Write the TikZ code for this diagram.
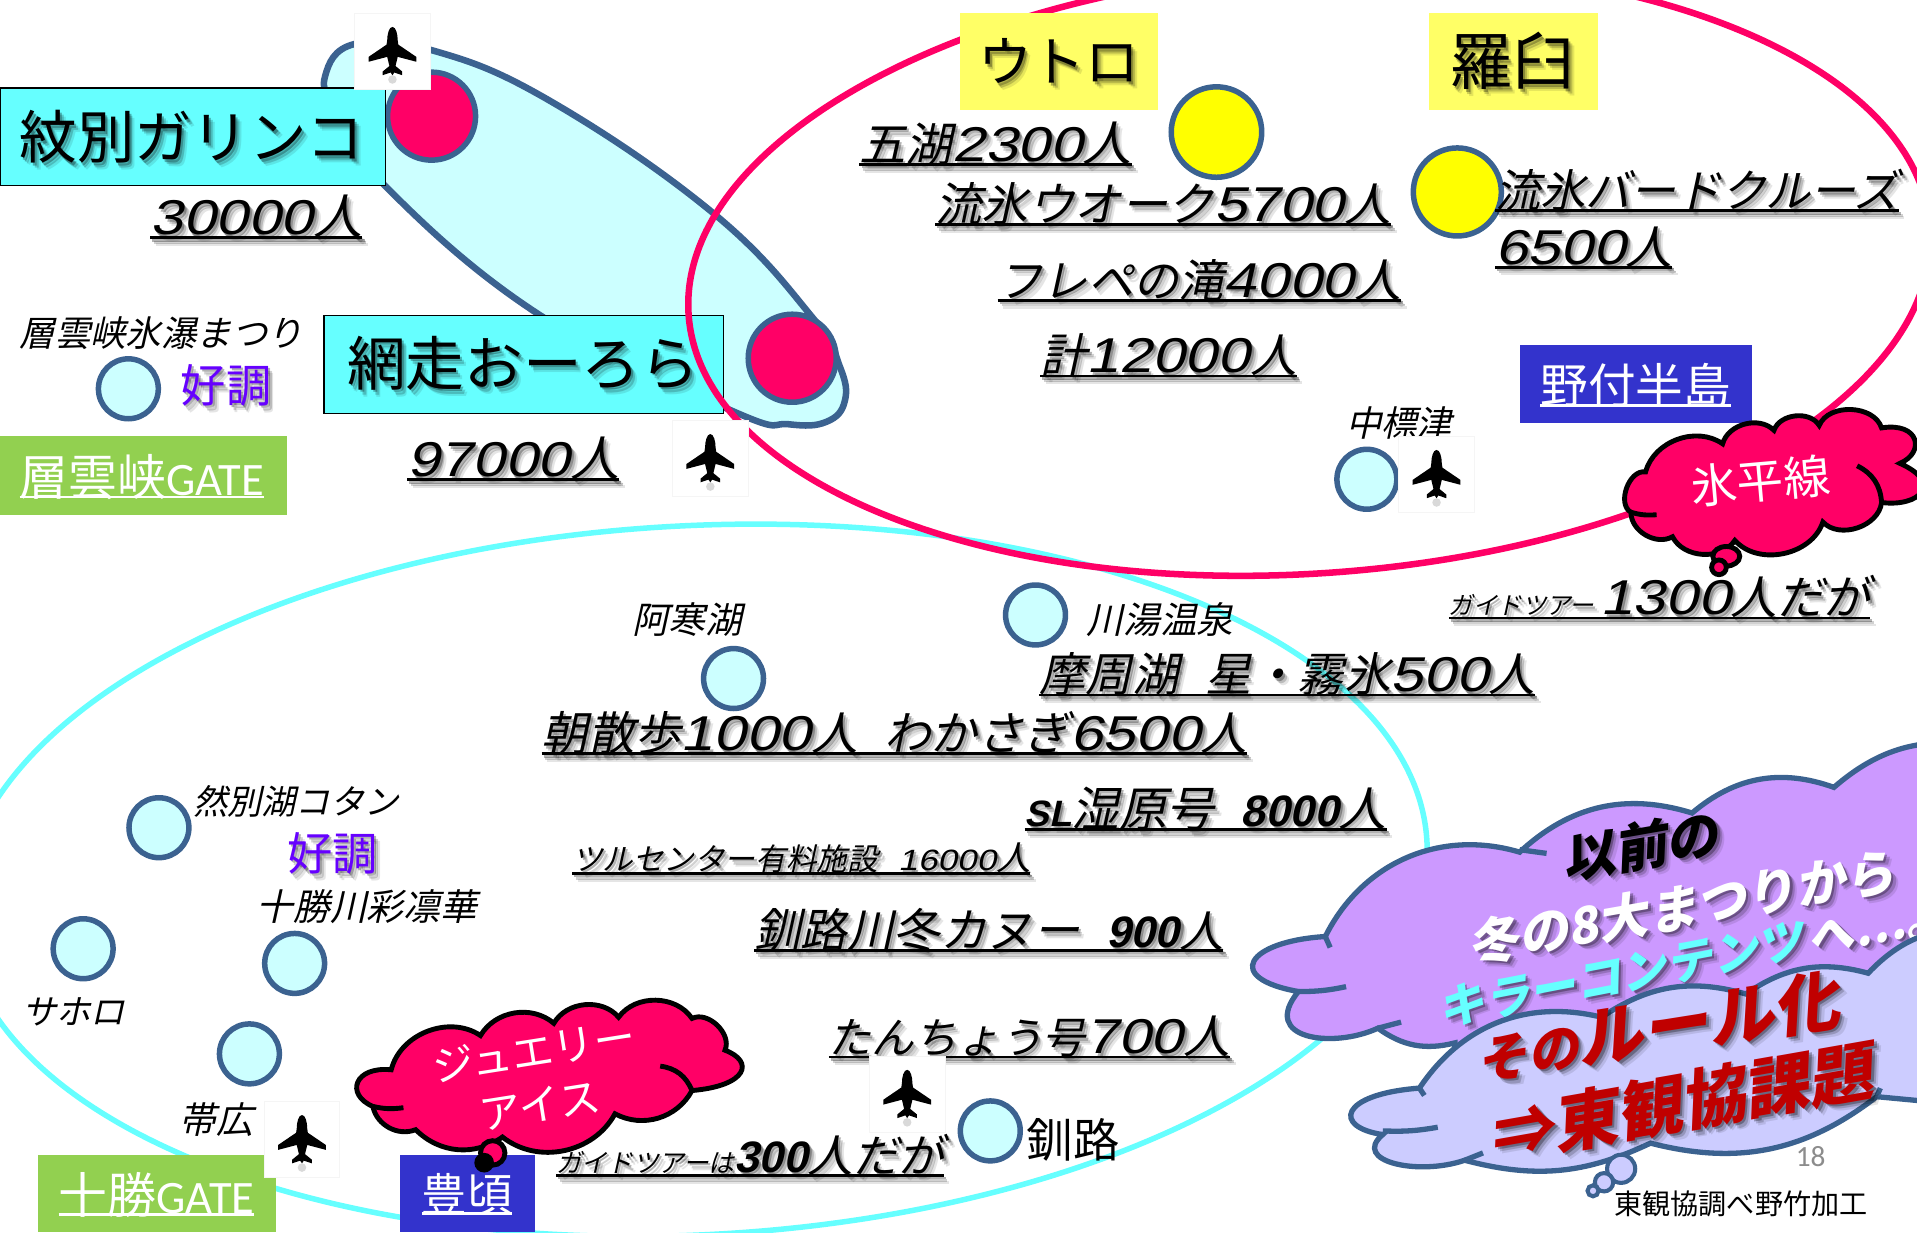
\documentclass[tikz,border=0pt]{standalone}
\usepackage{fontspec}
\usepackage{graphicx}
\setmainfont{Noto Sans CJK JP}
\newfontfamily\jup{Noto Sans CJK JP}
\newfontfamily\jit[FakeSlant=0.22]{Noto Sans CJK JP}
\newfontfamily\wdigfam[FakeStretch=1.2,FakeSlant=0.22]{Liberation Sans}
\newfontfamily\ndig[FakeSlant=0.22]{Liberation Sans}
\newfontfamily\carl{Carlito}
\definecolor{deepblue}{HTML}{3B6290}
\definecolor{rose}{HTML}{FF0066}
\definecolor{paleaqua}{HTML}{CCFFFF}
\definecolor{aqua}{HTML}{66FFFF}
\definecolor{lemon}{HTML}{FFFF00}
\definecolor{softyellow}{HTML}{FFFF66}
\definecolor{navybox}{HTML}{3333CC}
\definecolor{leaf}{HTML}{92D050}
\definecolor{violettext}{HTML}{6600FF}
\definecolor{mauve}{HTML}{CC99FF}
\definecolor{lilac}{HTML}{CCCCFF}
\definecolor{brick}{HTML}{C00000}
\newcommand{\fs}[1]{\fontsize{\fpeval{0.6*#1}}{\fpeval{0.72*#1}}\selectfont}
\newcommand{\ji}[2]{{\jit\fs{#1}#2}}
\newcommand{\jb}[2]{{\jit\bfseries\fs{#1}#2}}
\newcommand{\ju}[2]{{\jup\fs{#1}#2}}
\newcommand{\numw}[1]{{\wdigfam\fs{40}#1}}
\newcommand{\numb}[2]{{\ndig\bfseries\fs{#1}#2}}
\newsavebox{\lineholder}
% text with a rule under it: depth and thickness are in pt
\newcommand{\ruled}[3][1.4]{\sbox{\lineholder}{#3}\leavevmode\rlap{\rule[-#2pt]{\wd\lineholder}{#1pt}}\usebox{\lineholder}}
% label with a soft three-step drop shadow
\newcommand{\stxt}[4][]{%
  \node[lab,#1,text=black,text opacity=.10,xshift=2.8pt,yshift=-3.4pt] (#2-far) at (#3) {#4};
  \node[lab,#1,text=black,text opacity=.18,xshift=1.9pt,yshift=-2.4pt] (#2-mid) at (#3) {#4};
  \node[lab,#1,text=black,text opacity=.30,xshift=1.0pt,yshift=-1.2pt] (#2-near) at (#3) {#4};
  \node[lab,#1] (#2) at (#3) {#4};}
\tikzset{
  lab/.style={inner sep=0pt,outer sep=0pt,anchor=base west},
  mid/.style={inner sep=0pt,outer sep=0pt,anchor=center},
  spot/.style={draw=deepblue,line width=2.7pt},
  redline/.style={draw=black,line width=2.4pt,fill=rose},
  cloudline/.style={draw=deepblue,line width=2.6pt},
  planebox/.style={fill=white,draw=black!4,line width=.4pt,minimum width=37.2pt,minimum height=37.4pt,inner sep=0pt},
  planeicon/.pic={
    \fill[black,opacity=.15] (0,23) ellipse [x radius=3.5,y radius=3.5];
    \fill[black] (0,-20) .. controls (2.8,-20) and (4.3,-14) .. (4.3,-9) -- (4.8,-5.5) -- (19.5,4.5) -- (19.5,8.5)
      -- (4.3,4.5) -- (2.5,12) -- (8,16.5) -- (8,19.5) -- (1.5,17.3) -- (0,19.5) -- (-1.5,17.3) -- (-8,19.5)
      -- (-8,16.5) -- (-2.5,12) -- (-4.3,4.5) -- (-19.5,8.5) -- (-19.5,4.5) -- (-4.8,-5.5) -- (-4.3,-9)
      .. controls (-4.3,-14) and (-2.8,-20) .. (0,-20) -- cycle;
  }
}
\begin{document}
\begin{tikzpicture}[x=0.6pt,y=-0.6pt]
\useasboundingbox (0,0) rectangle (1568,1007.7);
\fill[white] (0,0) rectangle (1568,1007.7);
\clip (0,0) rectangle (1568,1007.7);

% route band between the two northern airports
\draw[spot,line width=3.2pt,fill=paleaqua] plot[smooth cycle,tension=.7] coordinates {
  (266,62) (290,36) (353,41) (449,82) (583,174) (664,259) (687,300) (691,328) (676,345)
  (645,347) (601,337) (442,258) (314,151) (275,90)};
\draw[spot,fill=rose] (353,95) circle [radius=36];
\draw[spot,fill=rose] (648,293) circle [radius=36];

% region outlines
\draw[aqua,line width=2.7pt,shift={(568,720)},rotate=3] (0,0) ellipse [x radius=600,y radius=290];

% destinations
\foreach \px/\py in {105/318,1118/392,847/503,600/555,130/677,68/776,241/788,204/862,810/925}
  \draw[spot,fill=paleaqua] (\px,\py) circle [radius=24.5];
\draw[spot,fill=lemon] (995,108) circle [radius=37];
\draw[spot,fill=lemon] (1192,157) circle [radius=36];

% title boxes
\draw[fill=aqua,draw=black,line width=.6pt] (0,72) rectangle (315,152);
\stxt[mid]{monbetsu}{157,112}{\ju{47}{紋別ガリンコ}}
\draw[fill=aqua,draw=black,line width=.6pt] (265,258) rectangle (592,338);
\stxt[mid]{abashiri}{428,297}{\ju{48}{網走おーろら}}
\draw[rose,line width=3.2pt,shift={(1071,222)},rotate=4] (0,0) ellipse [x radius=509,y radius=247];

\fill[softyellow] (785,11) rectangle (947,90);
\stxt[mid]{utoro}{866,50}{\ju{44}{ウトロ}}
\fill[softyellow] (1169,11) rectangle (1307,90);
\stxt[mid]{rausu}{1237,50}{\ju{51}{羅臼}}
\fill[navybox] (1243,282) rectangle (1433,346);
\node[mid,text=white] (notsuke) at (1338,315) {\ruled{1.6}{\ju{39}{野付半島}}};
\fill[leaf] (0,357) rectangle (235,421);
\node[mid,text=white] (soun-gate) at (116,390) {\ruled{1.6}{\ju{40}{層雲峡}{\carl\fs{38}GATE}}};
\fill[leaf] (31,945) rectangle (226,1008);
\node[mid,text=white] (tokachi-gate) at (128,977) {\ruled{1.6}{\ju{40}{十勝}{\carl\fs{38}GATE}}};
\fill[navybox] (327,945) rectangle (438,1008);
\node[mid,text=white] (toyokoro) at (382,977) {\ruled{1.6}{\ju{37}{豊頃}}};

% visitor figures
\stxt{n-monbetsu}{123,192}{\ruled{2.2}{\numw{30000}\ji{40}{人}}}
\stxt{n-abashiri}{333,390}{\ruled{2.2}{\numw{97000}\ji{40}{人}}}
\stxt{n-goko}{703,132}{\ruled{2.2}{\ji{38}{五湖}\numw{2300}\ji{40}{人}}}
\stxt{n-walk}{765,181}{\ruled{2.2}{\ji{38}{流氷ウオーク}\numw{5700}\ji{38}{人}}}
\stxt{n-furepe}{816,243}{\ruled{2.2}{\ji{37}{フレペの滝}\numw{4000}\ji{38}{人}}}
\stxt{n-total}{851,305}{\ruled{2.2}{\ji{38}{計}\numw{12000}\ji{38}{人}}}
\stxt{n-bird}{1223,170}{\ruled{2.2}{\ji{37}{流氷バードクルーズ}}}
\stxt{n-bird2}{1223,216}{\ruled{2.2}{\numw{6500}\ji{38}{人}}}
\stxt{n-tour}{1185,503}{\ruled{2.2}{\ji{20}{ガイドツアー}\hspace{3pt}\numw{1300}\ji{38}{人だが}}}
\stxt{n-mashu}{850,566}{\ruled{2.2}{\ji{38}{摩周湖}\hspace{13pt}\ji{38}{星・霧氷}\numw{500}\ji{38}{人}}}
\stxt{n-asa}{443,614}{\ruled{2.2}{\ji{38}{朝散歩}\numw{1000}\ji{38}{人}\hspace{13pt}\ji{38}{わかさぎ}\numw{6500}\ji{38}{人}}}
\stxt{n-sl}{838,676}{\ruled{2.2}{\numb{30}{SL}\ji{39}{湿原号}\hspace{13pt}\numb{36}{8000}\ji{39}{人}}}
\stxt{n-tsuru}{468,712}{\ruled{2.2}{\ji{25}{ツルセンター有料施設}\hspace{10pt}{\wdigfam\fs{24}16000}\ji{28}{人}}}
\stxt{n-canoe}{617,775}{\ruled{2.2}{\ji{38}{釧路川冬カヌー}\hspace{13pt}\numb{36}{900}\ji{36}{人}}}
\stxt{n-tancho}{678,862}{\ruled{2.2}{\ji{35}{たんちょう号}\numw{700}\ji{38}{人}}}
\stxt{n-guide}{455,959}{\ruled{2.2}{\ji{21}{ガイドツアーは}\numb{36}{300}\ji{37}{人だが}}}

% place names
\node[lab] (soun) at (16,283) {\ji{29}{層雲峡氷瀑まつり}};
\stxt[mid,text=violettext]{good-soun}{185,315}{\ju{37}{好調}}
\node[lab] (nakashibetsu) at (1101,357) {\ji{29}{中標津}};
\node[lab] (akan) at (517,518) {\ji{30}{阿寒湖}};
\node[lab] (kawayu) at (889,518) {\ji{30}{川湯温泉}};
\node[lab] (shikaribetsu) at (158,666) {\ji{28}{然別湖コタン}};
\stxt[mid,text=violettext]{good-tokachi}{272,698}{\ju{37}{好調}}
\node[lab] (tokachigawa) at (210,753) {\ji{30}{十勝川彩凛華}};
\node[lab] (sahoro) at (18,838) {\ji{28}{サホロ}};
\node[lab] (obihiro) at (147,927) {\ji{30}{帯広}};
\node[lab] (kushiro) at (840,947) {\ju{38}{釧路}};

% airport marks
\node[planebox] (plane-a) at (321,42) {};
\pic at (plane-a) {planeicon};
\node[planebox] (plane-b) at (581,375) {};
\pic at (plane-b) {planeicon};
\node[planebox] (plane-c) at (1175,388) {};
\pic at (plane-c) {planeicon};
\node[planebox] (plane-d) at (742,895) {};
\pic at (plane-d) {planeicon};
\node[planebox] (plane-e) at (247,932) {};
\pic at (plane-e) {planeicon};

% callout over the Notsuke peninsula
\draw[redline] (1346,386) to[bend left=55] (1409,363) to[bend left=60] (1451,352) to[bend left=65] (1488,348)
  to[bend left=70] (1539,350) .. controls (1570,345) and (1575,370) .. (1554,379)
  .. controls (1590,395) and (1570,415) .. (1539,411) to[bend left=65] (1491,427)
  to[bend left=60] (1419,442) to[bend left=60] (1368,439) to[bend left=60] (1334,419) to[bend left=80] cycle;
\draw[black,line width=2.4pt] (1519,381) to[bend left=30] (1539,411);
\draw[black,line width=2.4pt] (1334,419) to[bend right=10] (1355,421);
\draw[redline] (1412,455) ellipse [x radius=11,y radius=8];
\draw[redline] (1406,464) ellipse [x radius=6,y radius=6];
\node[mid,text=white,rotate=5] (hyoheisen) at (1440,393) {\ju{38}{氷平線}};

% callout over Toyokoro
\draw[redline] (320,875) to[bend left=55] (393,847) to[bend left=50] (453,837) to[bend left=55] (506,832)
  to[bend left=55] (566,833) to[bend left=70] (593,859) .. controls (617,868) and (612,888) .. (566,892)
  to[bend left=45] (503,911) to[bend left=50] (411,930) to[bend left=40] (340,924) to[bend left=50] (305,905)
  .. controls (282,895) and (290,872) .. (320,875) -- cycle;
\draw[black,line width=2.4pt] (540,872) to[bend left=30] (566,892);
\draw[black,line width=2.4pt] (305,905) to[bend right=10] (330,906);
\draw[redline] (403,943) ellipse [x radius=10,y radius=10];
\draw[redline,fill=black] (396,951) ellipse [x radius=6,y radius=6];
\node[mid,text=white,rotate=9] (jewel1) at (437,860) {\ju{34}{ジュエリー}};
\node[mid,text=white,rotate=9] (jewel2) at (442,904) {\ju{34}{アイス}};

% the two conclusion clouds
\draw[cloudline,fill=mauve] (1084,766) to[bend left=40] (1243,697) to[bend left=30] (1384,665) to[bend left=30] (1500,644)
  to[bend left=25] (1620,610) -- (1620,880) -- (1190,880) -- (1190,853) to[bend left=25] (1127,841)
  .. controls (1090,858) and (1030,850) .. (1062,811) .. controls (1000,800) and (1020,770) .. (1084,766) -- cycle;
\draw[deepblue,line width=2.6pt] (1243,695) -- (1265,698) (1062,811) to[bend right=6] (1101,807) (1127,841) -- (1146,836) (1084,766) -- (1088,775);

\stxt[mid,rotate=10]{former}{1341,692}{\jb{43}{以前の}}
\stxt[mid,rotate=10,text=white]{fest}{1375,742}{\jb{41}{冬の8大まつりから}}
\stxt[lab,rotate=11,text=aqua]{killer}{1179,840}{\jb{38}{キラーコンテンツ}}
\stxt[lab,rotate=11,text=white]{toward}{1481,782}{\jb{38}{へ…。}}

\draw[cloudline,fill=lilac] (1161,890) to[bend left=35] (1310,832) to[bend left=25] (1428,813) to[bend left=25] (1528,796)
  to[bend left=25] (1620,760) -- (1620,905) -- (1535,897) to[bend left=26] (1350,935) to[bend left=20] (1198,949)
  .. controls (1160,962) and (1105,950) .. (1131,928) .. controls (1090,922) and (1095,895) .. (1161,890) -- cycle;
\draw[deepblue,line width=2.6pt] (1131,925) to[bend right=6] (1176,922) (1198,949) -- (1213,943) (1161,890) -- (1165,896) (1535,897) -- (1538,890);
\draw[deepblue,line width=2pt,fill=lilac] (1326,956) circle [radius=11.5];
\draw[deepblue,line width=2pt,fill=lilac] (1312,967) circle [radius=7.5];
\draw[deepblue,line width=2pt,fill=lilac] (1303,974) circle [radius=4.5];

\stxt[lab,rotate=9,text=brick]{rule}{1210,884}{\jb{42}{その}\jb{54}{ルール化}}
\stxt[mid,rotate=10,text=brick]{issue}{1374,902}{\jb{53}{⇒東観協課題}}

% slide number and credit
\node[mid,text=black!45] (pageno) at (1481,946) {{\carl\fs{24}18}};
\node[mid] (credit) at (1424,985) {\ju{23}{東観協調べ野竹加工}};
\end{tikzpicture}
\end{document}
